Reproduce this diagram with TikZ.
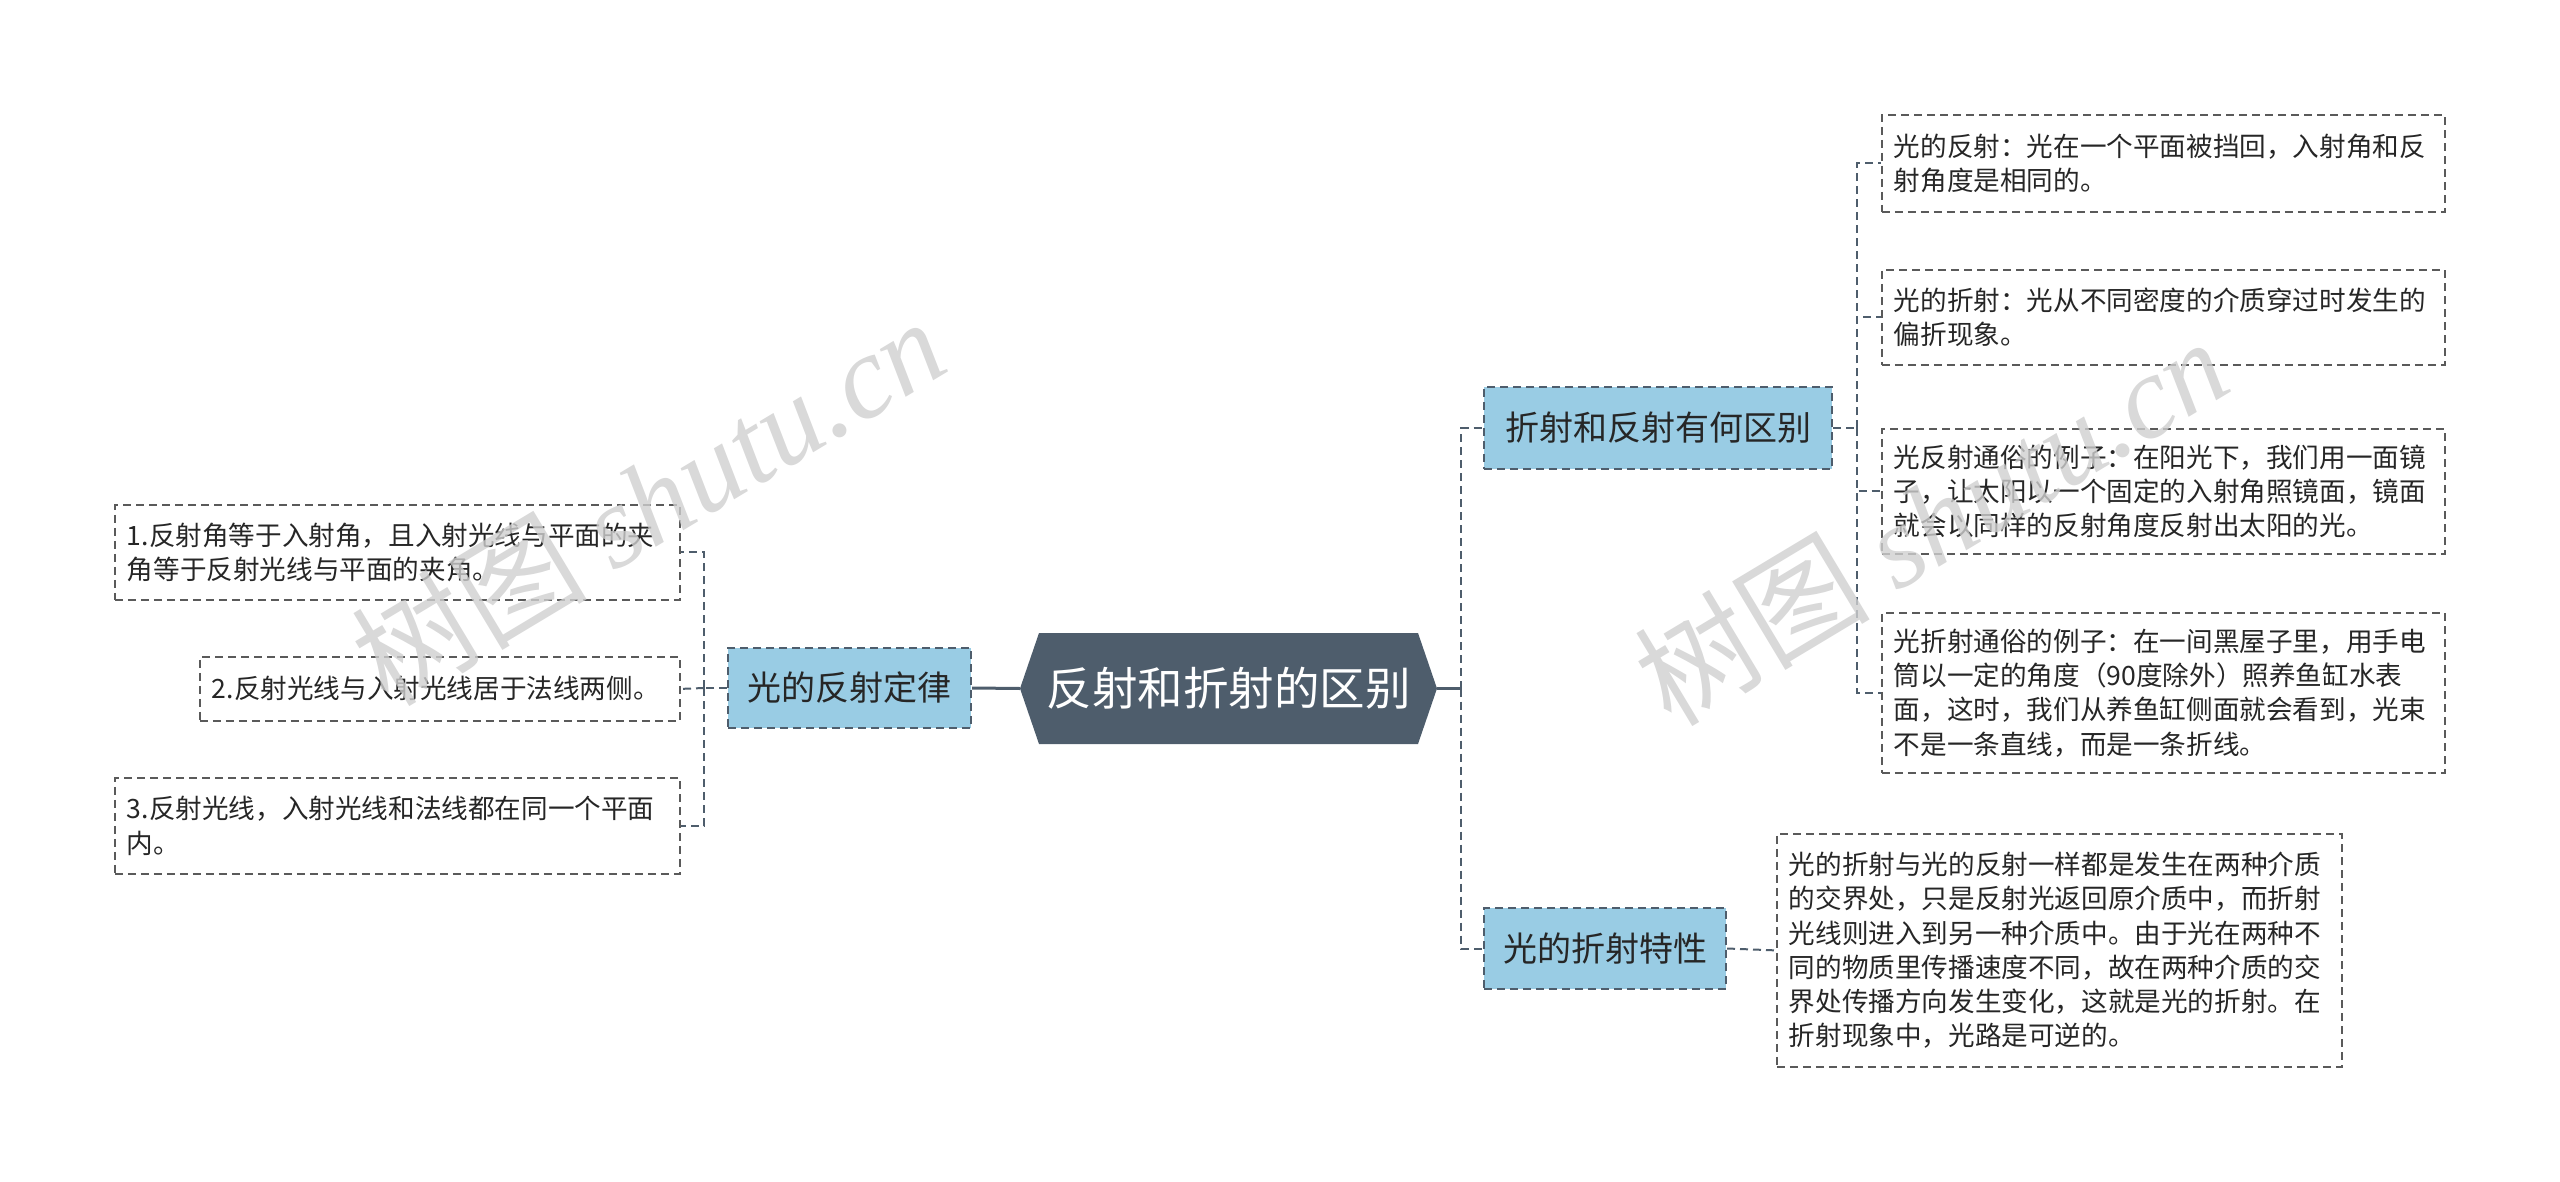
\documentclass[tikz,border=0pt]{standalone}
\usepackage{fontspec}
\setmainfont{Noto Sans CJK SC}
\newfontfamily\wmlatin{Liberation Serif}
\definecolor{dark}{HTML}{4E5D6C}
\definecolor{nodeblue}{HTML}{99CCE4}
\definecolor{boxline}{HTML}{5A5A5A}
\definecolor{txt}{HTML}{262626}
\definecolor{wmgray}{HTML}{CFCFCF}
\tikzset{
  conn/.style={draw=dark, line width=2pt, dash pattern=on 8pt off 5pt},
  solidconn/.style={draw=dark, line width=3pt},
  topic/.style={fill=nodeblue, draw=dark, line width=2pt, dash pattern=on 8pt off 5pt,
    font=\fontsize{34}{40}\selectfont, text=txt, inner sep=0pt},
  leaf/.style={draw=boxline, line width=1.8pt, dash pattern=on 8pt off 5pt,
    font=\fontsize{26.6}{34.3}\selectfont, text=txt, align=left,
    inner xsep=12pt, inner ysep=0pt, anchor=north west},
  wm/.style={text=wmgray, opacity=0.8, font=\fontsize{118}{120}\selectfont, inner sep=0pt}
}
\begin{document}
\begin{tikzpicture}[x=1pt,y=-1pt]
\useasboundingbox (0,0) rectangle (2560,1182);
% central hexagon
\fill[dark] (1020,688.5) -- (1039,633) -- (1418,633) -- (1437,688.5) -- (1418,744) -- (1039,744) -- cycle;
\node[minimum width=417pt, minimum height=111pt, inner sep=0pt, text=white,
  font=\fontsize{45.5}{50}\selectfont] (root) at (1228.5,688.5) {反射和折射的区别};
% topics
\node[topic, minimum width=348pt, minimum height=82pt] (t1) at (1658,428) {折射和反射有何区别};
\node[topic, minimum width=242pt, minimum height=81pt] (t2) at (1605,948.5) {光的折射特性};
\node[topic, minimum width=243pt, minimum height=80pt] (t3) at (849.5,688) {光的反射定律};
% right leaves
\node[leaf, text width=539pt, minimum height=97pt] (A) at (1881,114)
  {光的反射：光在一个平面被挡回，入射角和反\\射角度是相同的。};
\node[leaf, text width=539pt, minimum height=95pt] (B) at (1881,269)
  {光的折射：光从不同密度的介质穿过时发生的\\偏折现象。};
\node[leaf, text width=539pt, minimum height=125pt] (C) at (1881,428)
  {光反射通俗的例子：在阳光下，我们用一面镜\\子，让太阳以一个固定的入射角照镜面，镜面\\就会以同样的反射角度反射出太阳的光。};
\node[leaf, text width=539pt, minimum height=160pt] (D) at (1881,612)
  {光折射通俗的例子：在一间黑屋子里，用手电\\筒以一定的角度（90度除外）照养鱼缸水表\\面，这时，我们从养鱼缸侧面就会看到，光束\\不是一条直线，而是一条折线。};
\node[leaf, text width=541pt, minimum height=233pt] (E) at (1776,833)
  {光的折射与光的反射一样都是发生在两种介质\\的交界处，只是反射光返回原介质中，而折射\\光线则进入到另一种介质中。由于光在两种不\\同的物质里传播速度不同，故在两种介质的交\\界处传播方向发生变化，这就是光的折射。在\\折射现象中，光路是可逆的。};
% left leaves
\node[leaf, text width=541pt, minimum height=95pt] (L1) at (114,504)
  {1.反射角等于入射角，且入射光线与平面的夹\\角等于反射光线与平面的夹角。};
\node[leaf, text width=456pt, minimum height=64pt] (L2) at (199,656)
  {2.反射光线与入射光线居于法线两侧。};
\node[leaf, text width=541pt, minimum height=96pt] (L3) at (114,777)
  {3.反射光线，入射光线和法线都在同一个平面\\内。};
% connectors left
\draw[solidconn] (t3.east) -- (root.west);
\draw[conn] (t3.west) -- ++(-23pt,0) coordinate (lj);
\draw[conn] (lj) |- (L1.east);
\draw[conn] (lj) |- (L3.east);
\draw[conn] (lj) -- (L2.east);
% connectors right
\draw[solidconn] (root.east) -- ++(24pt,0) coordinate (rj);
\draw[conn] (rj) |- (t1.west);
\draw[conn] (rj) |- (t2.west);
\draw[conn] (t1.east) -- ++(24pt,0) coordinate (sj);
\draw[conn] (sj) |- (A.west);
\draw[conn] (sj) |- (B.west);
\draw[conn] (sj) |- (C.west);
\draw[conn] (sj) |- (D.west);
\draw[conn] (t2.east) -- (E.west);
% watermarks
\node[wm, rotate=31] (wm1) at (648,500) {树图 {\wmlatin\itshape shutu.cn}};
\node[wm, rotate=31] (wm2) at (1931,520) {树图 {\wmlatin\itshape shutu.cn}};
\end{tikzpicture}
\end{document}
